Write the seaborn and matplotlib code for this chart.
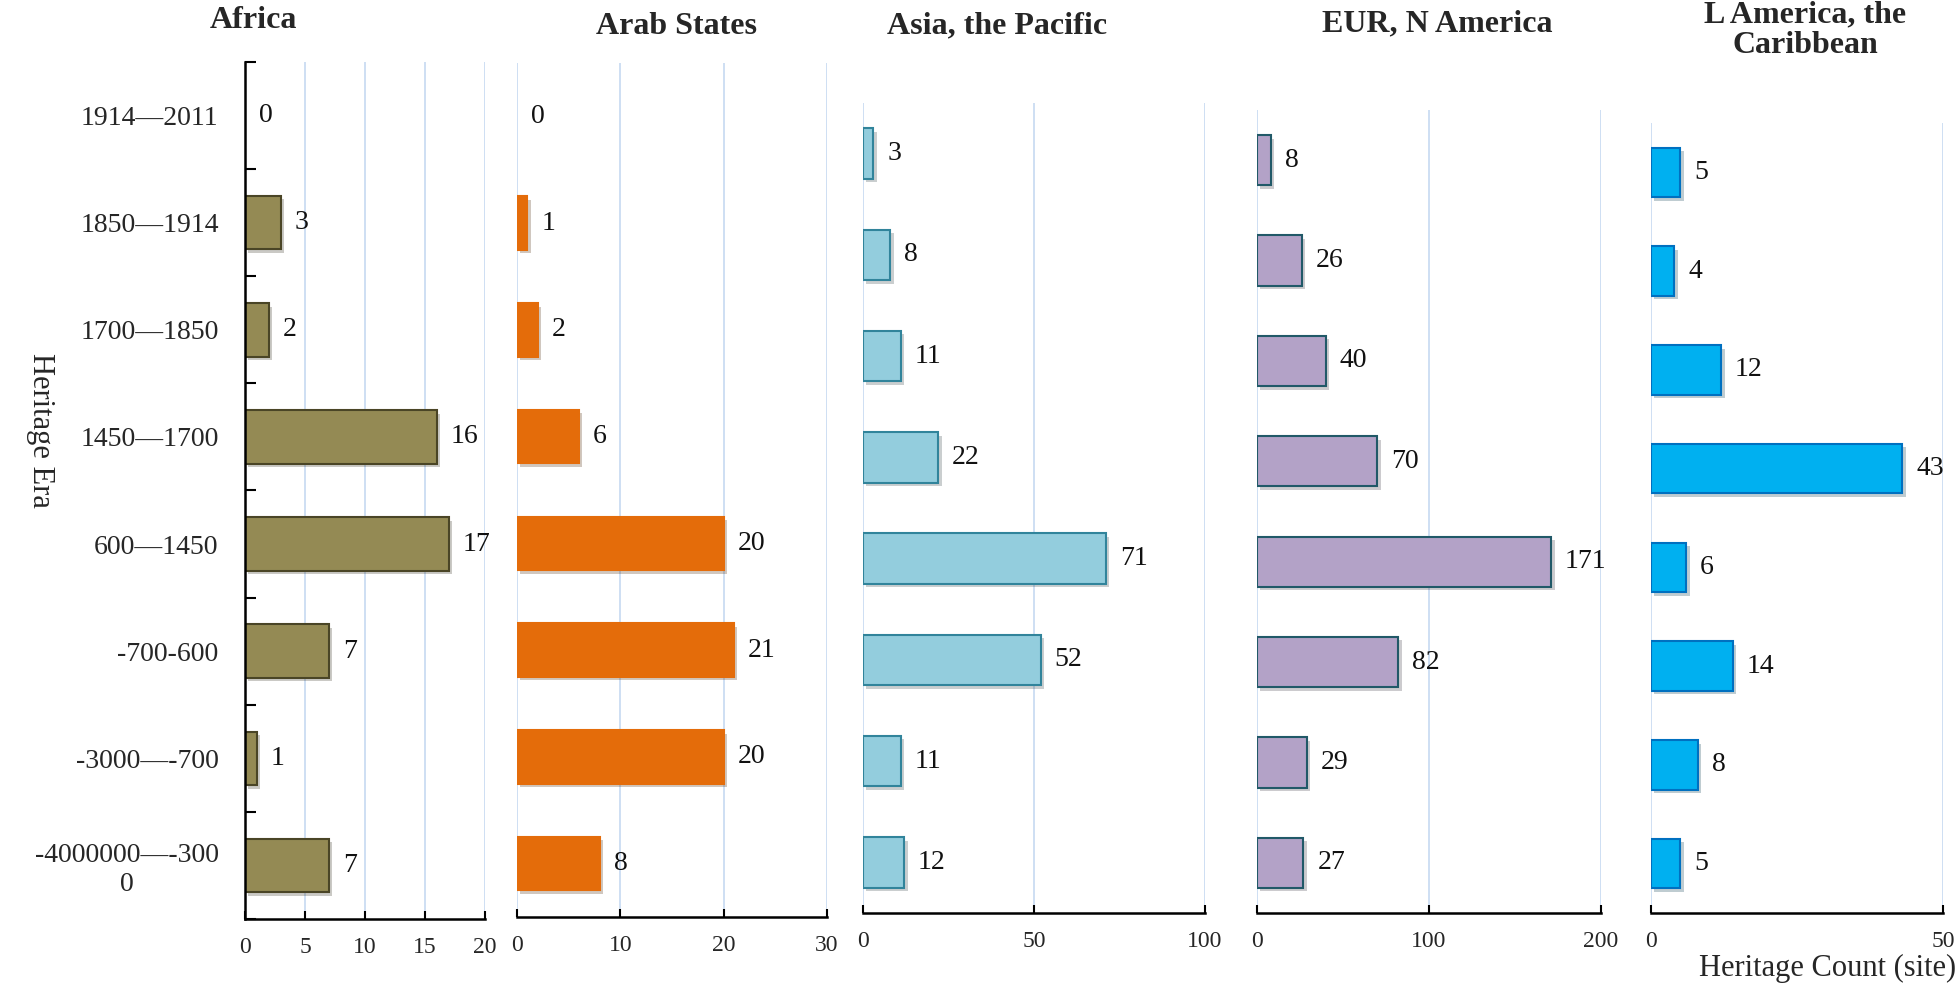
import numpy as np
import matplotlib
matplotlib.use('Agg')
import matplotlib.pyplot as plt
import matplotlib.patheffects as pe
import seaborn as sns

eras = ['1914—2011', '1850—1914', '1700—1850', '1450—1700', '600—1450',
        '-700-600', '-3000—-700', '-4000000—-300\n0']

africa = [0, 3, 2, 16, 17, 7, 1, 7]
arab = [0, 1, 2, 6, 20, 21, 20, 8]
asia = [3, 8, 11, 22, 71, 52, 11, 12]
eur = [8, 26, 40, 70, 171, 82, 29, 27]
lam = [5, 4, 12, 43, 6, 14, 8, 5]

regions = ['Africa', 'Arab States', 'Asia, the Pacific', 'EUR, N America',
           'L America, the\nCaribbean']
xticks = [[0, 5, 10, 15, 20], [0, 10, 20, 30], [0, 50, 100], [0, 100, 200], [0, 50]]
fills = ['#948A54', '#E46C0A', '#93CDDD', '#B3A2C7', '#00B0F0']
edges = ['#4A4526', '#E46C0A', '#31849B', '#215968', '#0070C0']

sns.set_theme(style='white')
plt.rcParams['font.family'] = ['Liberation Serif', 'DejaVu Serif']

W, H = 1960, 988
fig = plt.figure(figsize=(W / 100, H / 100), dpi=100)

# axes boxes in pixels: x0, x1, ytop, ybottom
boxes = [(245, 485, 62, 919), (517, 827, 63, 917), (863, 1205, 103, 913),
         (1257, 1601, 110, 913), (1651, 1943, 123, 913)]
# title centres in pixels
title_pos = [(253, 20), (676, 26), (997, 26), (1437, 24), (1805, 30)]

series = [africa, arab, asia, eur, lam]
grid_col = '#C6D9F1'

for i, (vals, box) in enumerate(zip(series, boxes)):
    x0, x1, yt, yb = box
    ax = fig.add_axes([x0 / W, (H - yb) / H, (x1 - x0) / W, (yb - yt) / H])
    sns.barplot(x=vals, y=eras, ax=ax, orient='h', color=fills[i],
                edgecolor=edges[i], linewidth=1.5, width=0.5, saturation=1)
    for p in ax.patches:
        if p.get_width() == 0:
            p.set_visible(False)
            continue
        p.set_path_effects([pe.SimplePatchShadow(offset=(2.5, -2.5), alpha=0.25),
                            pe.Normal()])
    for c in ax.containers:
        ax.bar_label(c, padding=10, fontsize=20, color='#111111')

    ax.set_xlim(0, xticks[i][-1])
    ax.set_ylim(7.5, -0.5)
    ax.set_xticks(xticks[i])
    ax.set_xticklabels([str(t) for t in xticks[i]], fontsize=17)
    ax.xaxis.grid(True, color=grid_col, linewidth=1.2)
    ax.yaxis.grid(False)
    ax.set_axisbelow(True)
    ax.tick_params(axis='x', direction='in', length=6, width=1.5, color='black',
                   pad=13, bottom=True)
    for s in ['top', 'right']:
        ax.spines[s].set_visible(False)
    ax.spines['bottom'].set_color('black')
    ax.spines['bottom'].set_linewidth(1.8)
    ax.set_xlabel('')
    ax.set_ylabel('')

    if i == 0:
        ax.spines['left'].set_color('black')
        ax.spines['left'].set_linewidth(1.8)
        ax.set_yticks(range(len(eras)))
        ax.set_yticklabels(eras, fontsize=20)
        for lab in ax.get_yticklabels():
            lab.set_multialignment('center')
        ax.set_yticks(np.arange(-0.5, len(eras), 1), minor=True)
        ax.tick_params(axis='y', which='major', length=0, pad=19)
        ax.tick_params(axis='y', which='minor', direction='in', length=8,
                       width=1.5, color='black', left=True)
    else:
        ax.spines['left'].set_visible(False)
        ax.set_yticks([])

    tx, ty = title_pos[i]
    fig.text(tx / W, 1 - ty / H, regions[i], ha='center', va='center',
             fontsize=23, fontweight='bold', linespacing=1.05)

fig.text(40 / W, 1 - 430 / H, 'Heritage Era', rotation=270, ha='center',
         va='center', fontsize=22)
fig.text(1956 / W, 1 - 968 / H, 'Heritage Count (site)', ha='right',
         va='center', fontsize=22)

fig.savefig('out.png', dpi=100, facecolor='white')
